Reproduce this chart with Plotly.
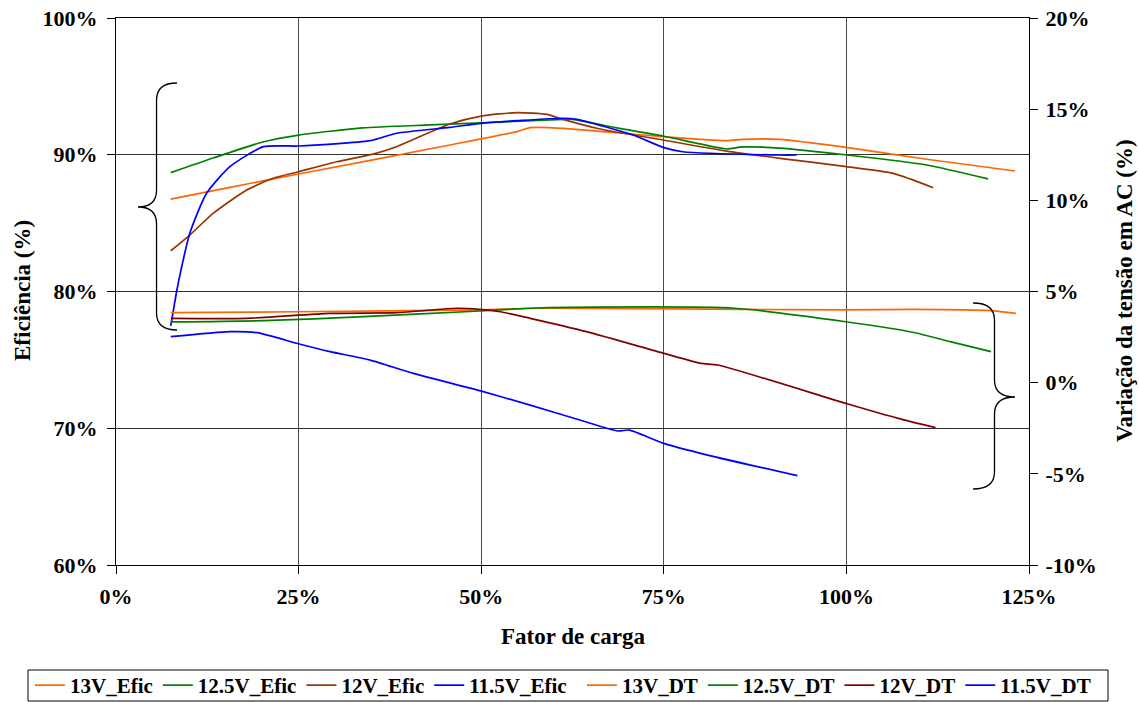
import plotly.graph_objects as go

# Load factor (%) and efficiency (%) — efficiency curves, left axis
x_13_efic = [7.5, 15.6, 25.0, 45.7, 54.9, 56.7, 59.4, 68.6, 74.9, 83.6, 85.8, 90.9, 100.0, 111.0, 123.1]
y_13_efic = [86.76, 87.62, 88.59, 90.71, 91.69, 91.98, 91.98, 91.61, 91.32, 91.03, 91.13, 91.13, 90.54, 89.67, 88.81]

x_125_efic = [7.5, 13.3, 20.1, 25.0, 33.8, 43.0, 50.0, 59.4, 62.2, 68.6, 74.9, 80.0, 83.6, 85.8, 90.9, 100.1, 111.0, 119.4]
y_125_efic = [88.69, 89.76, 90.93, 91.44, 91.96, 92.18, 92.34, 92.54, 92.6, 91.96, 91.37, 90.79, 90.42, 90.57, 90.49, 89.98, 89.25, 88.23]

x_12_efic = [7.5, 10.1, 13.3, 17.9, 21.5, 25.0, 30.2, 35.2, 38.4, 45.7, 50.0, 54.9, 59.0, 61.2, 66.3, 74.9, 83.6, 90.9, 100.0, 106.4, 111.9]
y_12_efic = [82.98, 84.13, 85.71, 87.42, 88.28, 88.76, 89.49, 90.05, 90.59, 92.25, 92.83, 93.08, 92.95, 92.59, 91.88, 91.08, 90.27, 89.74, 89.13, 88.64, 87.59]

x_115_efic = [7.5, 8.3, 8.8, 10.1, 12.4, 15.6, 20.2, 25.0, 34.8, 38.4, 45.7, 50.0, 55.0, 61.2, 63.1, 70.8, 74.9, 77.6, 90.9, 93.2]
y_115_efic = [77.48, 80.0, 81.33, 84.26, 87.18, 89.13, 90.59, 90.64, 91.03, 91.57, 92.0, 92.3, 92.49, 92.67, 92.59, 91.44, 90.54, 90.22, 89.98, 89.98]

# Voltage variation (%) — right axis
x_13_dt = [7.5, 24.7, 49.8, 57.3, 85.7, 99.9, 109.4, 119.8, 123.2]
y_13_dt = [3.84, 3.89, 3.99, 4.08, 4.02, 3.99, 4.02, 3.95, 3.80]

x_125_dt = [7.5, 20.2, 33.9, 49.8, 56.7, 62.0, 84.7, 99.9, 109.4, 114.2, 119.8]
y_125_dt = [3.33, 3.40, 3.62, 3.93, 4.08, 4.13, 4.08, 3.34, 2.74, 2.25, 1.70]

x_12_dt = [7.5, 17.9, 29.3, 38.4, 46.6, 49.8, 52.6, 56.7, 64.4, 75.0, 80.1, 82.4, 100.2, 107.1, 112.2]
y_12_dt = [3.53, 3.53, 3.80, 3.84, 4.08, 4.02, 3.89, 3.53, 2.80, 1.61, 1.06, 0.97, -1.17, -1.96, -2.47]

x_115_dt = [7.5, 15.6, 19.3, 25.1, 29.3, 34.8, 40.7, 49.8, 56.7, 63.5, 68.7, 70.3, 75.0, 81.0, 93.3]
y_115_dt = [2.52, 2.80, 2.74, 2.12, 1.70, 1.24, 0.51, -0.44, -1.23, -2.05, -2.65, -2.60, -3.33, -3.97, -5.10]

x_ticks = [0, 25, 50, 75, 100, 125]
y_ticks = [60, 70, 80, 90, 100]
y2_ticks = [-10, -5, 0, 5, 10, 15, 20]

FONT = "Liberation Serif"
W, H = 1139, 702
L, R, T, B = 116, 110, 18, 137
PW, PH = W - L - R, H - T - B

fig = go.Figure()

series = [
    ("13V_Efic", x_13_efic, y_13_efic, "#FF6600", "y", "legend"),
    ("12.5V_Efic", x_125_efic, y_125_efic, "#008000", "y", "legend"),
    ("12V_Efic", x_12_efic, y_12_efic, "#993300", "y", "legend"),
    ("11.5V_Efic", x_115_efic, y_115_efic, "#0000FF", "y", "legend"),
    ("13V_DT", x_13_dt, y_13_dt, "#FF6600", "y2", "legend2"),
    ("12.5V_DT", x_125_dt, y_125_dt, "#008000", "y2", "legend2"),
    ("12V_DT", x_12_dt, y_12_dt, "#800000", "y2", "legend2"),
    ("11.5V_DT", x_115_dt, y_115_dt, "#0000FF", "y2", "legend2"),
]
for name, xs, ys, color, axis, leg in series:
    fig.add_trace(go.Scatter(
        x=xs, y=ys, name=f"<b>{name}</b>", mode="lines", yaxis=axis, legend=leg,
        line=dict(color=color, width=1.7, shape="spline", smoothing=0.6),
    ))


def px2paper(px, py):
    return (px - L) / PW, (H - B - py) / PH


def brace_path(points):
    # points: list of (cmd, [(px, py), ...]) in pixel space
    parts = []
    for cmd, pts in points:
        coords = " ".join("%.4f,%.4f" % px2paper(*p) for p in pts)
        parts.append(cmd + " " + coords)
    return " ".join(parts)


left_brace = brace_path([
    ("M", [(177, 83)]),
    ("Q", [(156.5, 83), (156.5, 100)]),
    ("L", [(156.5, 190)]),
    ("Q", [(156.5, 207), (138, 207)]),
    ("Q", [(156.5, 207), (156.5, 224)]),
    ("L", [(156.5, 313)]),
    ("Q", [(156.5, 330), (177, 330)]),
])
right_brace = brace_path([
    ("M", [(973, 303)]),
    ("Q", [(994.5, 303), (994.5, 320)]),
    ("L", [(994.5, 380)]),
    ("Q", [(994.5, 397), (1015, 397)]),
    ("Q", [(994.5, 397), (994.5, 414)]),
    ("L", [(994.5, 472)]),
    ("Q", [(994.5, 489), (973, 489)]),
])
for p in (left_brace, right_brace):
    fig.add_shape(type="path", path=p, xref="paper", yref="paper",
                  line=dict(color="black", width=1.3))

# frame around the two legend blocks
lx0, ly0 = px2paper(28, 701)
lx1, ly1 = px2paper(1108, 670)
fig.add_shape(type="rect", xref="paper", yref="paper",
              x0=lx0, y0=ly0, x1=lx1, y1=ly1,
              line=dict(color="black", width=1), fillcolor="rgba(0,0,0,0)")

tick_font = dict(family=FONT, size=22, color="black")
title_font = dict(family=FONT, size=23, color="black")
legend_font = dict(family=FONT, size=21, color="black")
legend_y = px2paper(0, 665)[1]

fig.update_layout(
    width=W, height=H,
    margin=dict(l=L, r=R, t=T, b=B, autoexpand=False),
    paper_bgcolor="white", plot_bgcolor="white",
    font=dict(family=FONT, color="black"),
    xaxis=dict(
        range=[0, 125], tickvals=x_ticks, ticktext=[f"<b>{v}%</b>" for v in x_ticks],
        showgrid=True, gridcolor="#4a4a4a", gridwidth=1.2,
        showline=True, linecolor="black", linewidth=1.2, mirror=True,
        ticks="outside", ticklen=8, tickcolor="black",
        tickfont=tick_font, ticklabelstandoff=3, zeroline=False,
    ),
    yaxis=dict(
        range=[60, 100], tickvals=y_ticks, ticktext=[f"<b>{v}%</b>" for v in y_ticks],
        showgrid=True, gridcolor="#333333", gridwidth=1,
        showline=True, linecolor="black", linewidth=1.2,
        ticks="outside", ticklen=8, tickcolor="black",
        tickfont=tick_font, ticklabelstandoff=5, zeroline=False,
    ),
    yaxis2=dict(
        range=[-10, 20], tickvals=y2_ticks, ticktext=[f"<b>{v}%</b>" for v in y2_ticks],
        overlaying="y", side="right", showgrid=False,
        showline=True, linecolor="black", linewidth=1.2,
        ticks="outside", ticklen=8, tickcolor="black",
        tickfont=tick_font, ticklabelstandoff=3, zeroline=False,
    ),
    showlegend=True,
    legend=dict(
        orientation="h", x=px2paper(30, 0)[0], xanchor="left",
        y=legend_y, yanchor="top", borderwidth=0, bgcolor="rgba(0,0,0,0)",
        font=legend_font, itemwidth=30, tracegroupgap=0,
    ),
    legend2=dict(
        orientation="h", x=px2paper(582, 0)[0], xanchor="left",
        y=legend_y, yanchor="top", borderwidth=0, bgcolor="rgba(0,0,0,0)",
        font=legend_font, itemwidth=30, tracegroupgap=0,
    ),
    annotations=[
        dict(text="<b>Fator de carga</b>", xref="paper", yref="paper",
             x=0.5, y=px2paper(0, 636)[1], xanchor="center", yanchor="middle",
             showarrow=False, font=title_font),
        dict(text="<b>Eficiência (%)</b>", xref="paper", yref="paper",
             x=px2paper(22, 0)[0], y=px2paper(0, 291)[1], textangle=-90,
             xanchor="center", yanchor="middle",
             showarrow=False, font=title_font),
        dict(text="<b>Variação da tensão em AC (%)</b>", xref="paper", yref="paper",
             x=px2paper(1124, 0)[0], y=px2paper(0, 291)[1], textangle=-90,
             xanchor="center", yanchor="middle",
             showarrow=False, font=title_font),
    ],
)

fig.write_html("out.html")
